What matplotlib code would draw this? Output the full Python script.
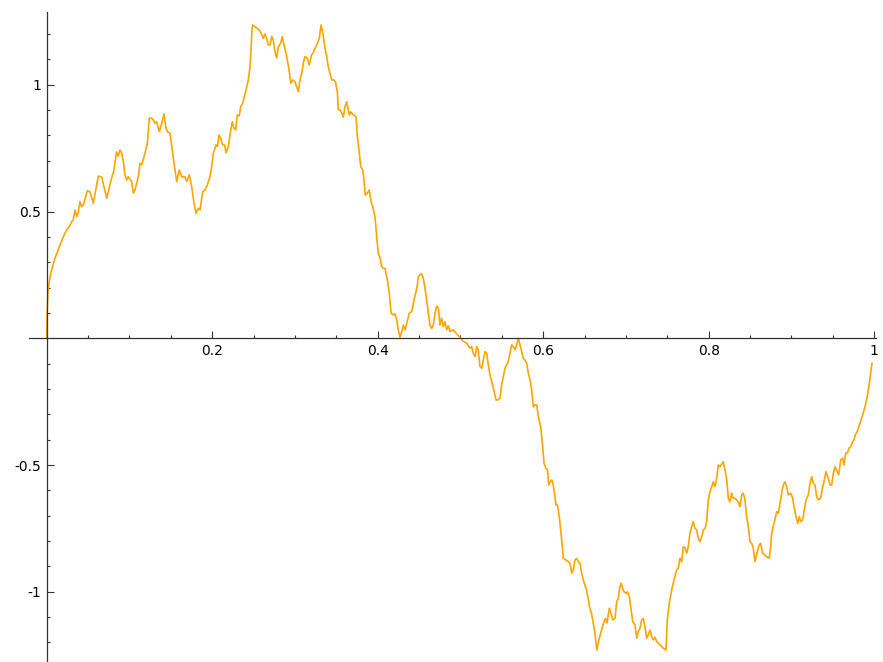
"""Rough fractal curve on [0, 1], drawn with axes crossing at the origin."""
import matplotlib
matplotlib.use('Agg')

import matplotlib.pyplot as plt
from matplotlib.ticker import FixedLocator

# sampled curve
xs = [
    0.0, 0.0005, 0.0016, 0.0048, 0.0100, 0.0161, 0.0209, 0.0242, 0.0273, 0.0302,
    0.0321, 0.0342, 0.0363, 0.0382, 0.0402, 0.0423, 0.0442, 0.0491, 0.0523, 0.0563,
    0.0624, 0.0665, 0.0725, 0.0773, 0.0813, 0.0844, 0.0865, 0.0886, 0.0906, 0.0926,
    0.0946, 0.0967, 0.0986, 0.1027, 0.1047, 0.1067, 0.1107, 0.1127, 0.1148, 0.1188,
    0.1216, 0.1240, 0.1269, 0.1288, 0.1309, 0.1329, 0.1361, 0.1390, 0.1418, 0.1438,
    0.1457, 0.1490, 0.1530, 0.1571, 0.1602, 0.1631, 0.1671, 0.1692, 0.1723, 0.1752,
    0.1780, 0.1804, 0.1832, 0.1853, 0.1885, 0.1913, 0.1941, 0.1973, 0.1994, 0.2013,
    0.2046, 0.2064, 0.2082, 0.2103, 0.2127, 0.2149, 0.2167, 0.2195, 0.2224, 0.2243,
    0.2263, 0.2284, 0.2303, 0.2327, 0.2344, 0.2369, 0.2384, 0.2408, 0.2436, 0.2457,
    0.2469, 0.2481, 0.2489, 0.2517, 0.2557, 0.2584, 0.2618, 0.2638, 0.2659, 0.2678,
    0.2698, 0.2719, 0.2738, 0.2759, 0.2780, 0.2799, 0.2828, 0.2847, 0.2868, 0.2892,
    0.2908, 0.2932, 0.2949, 0.2973, 0.3001, 0.3021, 0.3041, 0.3061, 0.3082, 0.3101,
    0.3121, 0.3149, 0.3173, 0.3202, 0.3222, 0.3242, 0.3263, 0.3294, 0.3315, 0.3335,
    0.3363, 0.3384, 0.3403, 0.3444, 0.3472, 0.3490, 0.3512, 0.3524, 0.3544, 0.3565,
    0.3584, 0.3605, 0.3625, 0.3645, 0.3657, 0.3674, 0.3705, 0.3738, 0.3754, 0.3778,
    0.3795, 0.3819, 0.3834, 0.3850, 0.3874, 0.3898, 0.3919, 0.3940, 0.3967, 0.3988,
    0.4007, 0.4028, 0.4048, 0.4068, 0.4088, 0.4116, 0.4140, 0.4161, 0.4189, 0.4209,
    0.4230, 0.4249, 0.4269, 0.4290, 0.4309, 0.4330, 0.4350, 0.4382, 0.4411, 0.4439,
    0.4463, 0.4479, 0.4491, 0.4511, 0.4532, 0.4551, 0.4571, 0.4592, 0.4612, 0.4632,
    0.4653, 0.4672, 0.4693, 0.4713, 0.4733, 0.4753, 0.4773, 0.4793, 0.4813, 0.4834,
    0.4853, 0.4874, 0.4914, 0.4955, 0.4995, 0.5035, 0.5076, 0.5115, 0.5135, 0.5155,
    0.5176, 0.5196, 0.5215, 0.5236, 0.5257, 0.5276, 0.5297, 0.5317, 0.5337, 0.5357,
    0.5378, 0.5397, 0.5430, 0.5457, 0.5478, 0.5498, 0.5518, 0.5538, 0.5559, 0.5578,
    0.5599, 0.5619, 0.5639, 0.5659, 0.5680, 0.5699, 0.5720, 0.5740, 0.5760, 0.5780,
    0.5801, 0.5820, 0.5841, 0.5861, 0.5881, 0.5901, 0.5922, 0.5941, 0.5970, 0.5994,
    0.6010, 0.6034, 0.6052, 0.6066, 0.6082, 0.6103, 0.6122, 0.6142, 0.6154, 0.6173,
    0.6195, 0.6211, 0.6227, 0.6243, 0.6275, 0.6303, 0.6324, 0.6344, 0.6364, 0.6384,
    0.6405, 0.6424, 0.6445, 0.6465, 0.6485, 0.6523, 0.6547, 0.6559, 0.6580, 0.6599,
    0.6620, 0.6648, 0.6672, 0.6701, 0.6729, 0.6753, 0.6771, 0.6799, 0.6819, 0.6840,
    0.6868, 0.6888, 0.6908, 0.6920, 0.6940, 0.6961, 0.6977, 0.7001, 0.7017, 0.7041,
    0.7058, 0.7082, 0.7110, 0.7130, 0.7149, 0.7170, 0.7190, 0.7210, 0.7230, 0.7251,
    0.7270, 0.7291, 0.7311, 0.7331, 0.7351, 0.7372, 0.7412, 0.7451, 0.7484, 0.7500,
    0.7524, 0.7553, 0.7581, 0.7613, 0.7633, 0.7653, 0.7674, 0.7693, 0.7714, 0.7734,
    0.7753, 0.7774, 0.7794, 0.7814, 0.7834, 0.7855, 0.7874, 0.7895, 0.7915, 0.7935,
    0.7955, 0.7976, 0.7995, 0.8016, 0.8036, 0.8056, 0.8076, 0.8097, 0.8116, 0.8137,
    0.8157, 0.8176, 0.8197, 0.8218, 0.8237, 0.8257, 0.8278, 0.8297, 0.8317, 0.8338,
    0.8357, 0.8378, 0.8399, 0.8418, 0.8438, 0.8459, 0.8479, 0.8499, 0.8520, 0.8539,
    0.8559, 0.8587, 0.8611, 0.8628, 0.8652, 0.8680, 0.8701, 0.8732, 0.8749, 0.8761,
    0.8789, 0.8822, 0.8841, 0.8862, 0.8882, 0.8902, 0.8922, 0.8943, 0.8962, 0.8991,
    0.9015, 0.9031, 0.9055, 0.9076, 0.9095, 0.9112, 0.9136, 0.9155, 0.9176, 0.9204,
    0.9224, 0.9245, 0.9264, 0.9285, 0.9305, 0.9324, 0.9353, 0.9378, 0.9393, 0.9417,
    0.9445, 0.9466, 0.9486, 0.9506, 0.9526, 0.9554, 0.9571, 0.9595, 0.9619, 0.9635,
    0.9656, 0.9677, 0.9695, 0.9716, 0.9740, 0.9756, 0.9772, 0.9796, 0.9828, 0.9861,
    0.9889, 0.9917, 0.9941, 0.9958, 0.9974,
]
ys = [
    0.0, 0.099, 0.191, 0.256, 0.316, 0.368, 0.407, 0.427, 0.440, 0.460,
    0.467, 0.506, 0.480, 0.499, 0.539, 0.519, 0.526, 0.582, 0.578, 0.533,
    0.640, 0.635, 0.552, 0.618, 0.664, 0.735, 0.719, 0.743, 0.730, 0.697,
    0.644, 0.624, 0.637, 0.618, 0.572, 0.585, 0.637, 0.690, 0.684, 0.730,
    0.769, 0.868, 0.868, 0.861, 0.848, 0.854, 0.815, 0.848, 0.885, 0.835,
    0.815, 0.809, 0.710, 0.618, 0.664, 0.637, 0.637, 0.618, 0.644, 0.598,
    0.533, 0.493, 0.513, 0.506, 0.578, 0.585, 0.605, 0.637, 0.677, 0.730,
    0.763, 0.757, 0.802, 0.789, 0.763, 0.763, 0.732, 0.756, 0.822, 0.854,
    0.828, 0.822, 0.881, 0.877, 0.914, 0.927, 0.947, 0.979, 1.019, 1.071,
    1.137, 1.216, 1.236, 1.229, 1.219, 1.209, 1.183, 1.200, 1.181, 1.157,
    1.157, 1.190, 1.177, 1.131, 1.105, 1.150, 1.164, 1.190, 1.157, 1.124,
    1.098, 1.052, 1.006, 1.019, 1.012, 0.993, 0.973, 1.019, 1.045, 1.085,
    1.111, 1.105, 1.078, 1.118, 1.127, 1.144, 1.157, 1.183, 1.236, 1.209,
    1.144, 1.111, 1.071, 1.019, 1.019, 1.011, 0.972, 0.901, 0.901, 0.888,
    0.872, 0.914, 0.933, 0.901, 0.881, 0.893, 0.881, 0.874, 0.795, 0.730,
    0.677, 0.664, 0.624, 0.565, 0.572, 0.585, 0.539, 0.519, 0.480, 0.401,
    0.335, 0.316, 0.282, 0.276, 0.276, 0.230, 0.178, 0.099, 0.092, 0.096,
    0.072, 0.033, 0.004, 0.026, 0.052, 0.033, 0.059, 0.099, 0.105, 0.151,
    0.184, 0.210, 0.243, 0.250, 0.254, 0.237, 0.197, 0.151, 0.099, 0.052,
    0.039, 0.052, 0.099, 0.127, 0.120, 0.052, 0.079, 0.046, 0.065, 0.033,
    0.049, 0.026, 0.033, 0.017, 0.004, -0.013, -0.019, -0.039, -0.033, -0.059,
    -0.073, -0.033, -0.046, -0.112, -0.118, -0.086, -0.053, -0.059, -0.105, -0.145,
    -0.171, -0.197, -0.243, -0.243, -0.237, -0.184, -0.151, -0.118, -0.105, -0.092,
    -0.059, -0.026, -0.033, -0.046, -0.026, 0.000, -0.026, -0.053, -0.079, -0.086,
    -0.099, -0.138, -0.164, -0.204, -0.270, -0.263, -0.263, -0.309, -0.349, -0.428,
    -0.493, -0.513, -0.520, -0.579, -0.567, -0.559, -0.579, -0.625, -0.658, -0.658,
    -0.704, -0.756, -0.809, -0.868, -0.875, -0.881, -0.888, -0.927, -0.914, -0.875,
    -0.868, -0.881, -0.888, -0.927, -0.953, -0.993, -1.032, -1.059, -1.080, -1.111,
    -1.151, -1.230, -1.190, -1.157, -1.124, -1.105, -1.123, -1.065, -1.085, -1.111,
    -1.105, -1.039, -1.026, -0.993, -0.966, -0.986, -1.000, -1.006, -1.000, -1.019,
    -1.059, -1.118, -1.131, -1.183, -1.157, -1.144, -1.111, -1.105, -1.138, -1.183,
    -1.170, -1.151, -1.177, -1.190, -1.179, -1.197, -1.210, -1.222, -1.230, -1.111,
    -1.045, -0.993, -0.953, -0.914, -0.906, -0.868, -0.881, -0.822, -0.827, -0.848,
    -0.822, -0.769, -0.743, -0.723, -0.750, -0.756, -0.789, -0.802, -0.783, -0.756,
    -0.751, -0.723, -0.638, -0.605, -0.585, -0.566, -0.585, -0.552, -0.500, -0.507,
    -0.496, -0.487, -0.520, -0.559, -0.631, -0.645, -0.611, -0.631, -0.631, -0.638,
    -0.646, -0.664, -0.618, -0.611, -0.638, -0.704, -0.743, -0.802, -0.809, -0.828,
    -0.881, -0.842, -0.815, -0.809, -0.848, -0.855, -0.862, -0.868, -0.822, -0.769,
    -0.730, -0.684, -0.690, -0.651, -0.611, -0.579, -0.566, -0.585, -0.618, -0.611,
    -0.631, -0.664, -0.704, -0.730, -0.704, -0.723, -0.717, -0.677, -0.638, -0.618,
    -0.572, -0.546, -0.572, -0.579, -0.625, -0.638, -0.631, -0.585, -0.566, -0.526,
    -0.552, -0.579, -0.579, -0.533, -0.507, -0.526, -0.539, -0.480, -0.473, -0.500,
    -0.454, -0.452, -0.434, -0.428, -0.408, -0.401, -0.381, -0.368, -0.335, -0.303,
    -0.270, -0.230, -0.178, -0.138, -0.099,
]

xticks = [0.2, 0.4, 0.6, 0.8, 1.0]
xticklabels = ['0.2', '0.4', '0.6', '0.8', '1']
yticks = [-1.0, -0.5, 0.5, 1.0]
yticklabels = ['-1', '-0.5', '0.5', '1']
xminor = [0.05, 0.1, 0.15, 0.25, 0.3, 0.35, 0.45, 0.5, 0.55,
          0.65, 0.7, 0.75, 0.85, 0.9, 0.95]
yminor = [-1.2, -1.1, -0.9, -0.8, -0.7, -0.6, -0.4, -0.3, -0.2, -0.1,
          0.1, 0.2, 0.3, 0.4, 0.6, 0.7, 0.8, 0.9, 1.1, 1.2]

fig = plt.figure(figsize=(8.83, 6.62), dpi=100)
ax = fig.add_axes([29 / 883, 0.0, 847 / 883, 650 / 662])

ax.plot(xs, ys, color='#ffa500', lw=1.2)

ax.set_xlim(-0.0214, 1.0022)
ax.set_ylim(-1.277, 1.287)

for side in ('top', 'right'):
    ax.spines[side].set_visible(False)
for side in ('left', 'bottom'):
    ax.spines[side].set_position('zero')
    ax.spines[side].set_color('#333333')
    ax.spines[side].set_linewidth(0.9)

ax.xaxis.set_major_locator(FixedLocator(xticks))
ax.set_xticklabels(xticklabels)
ax.yaxis.set_major_locator(FixedLocator(yticks))
ax.set_yticklabels(yticklabels)
ax.xaxis.set_minor_locator(FixedLocator(xminor))
ax.yaxis.set_minor_locator(FixedLocator(yminor))

ax.tick_params(axis='both', which='major', direction='in', length=5,
               width=0.8, color='#333333', labelsize=10, pad=4)
ax.tick_params(axis='both', which='minor', direction='in', length=2.5,
               width=0.8, color='#333333')

fig.savefig('out.png', dpi=100)
plt.close(fig)
